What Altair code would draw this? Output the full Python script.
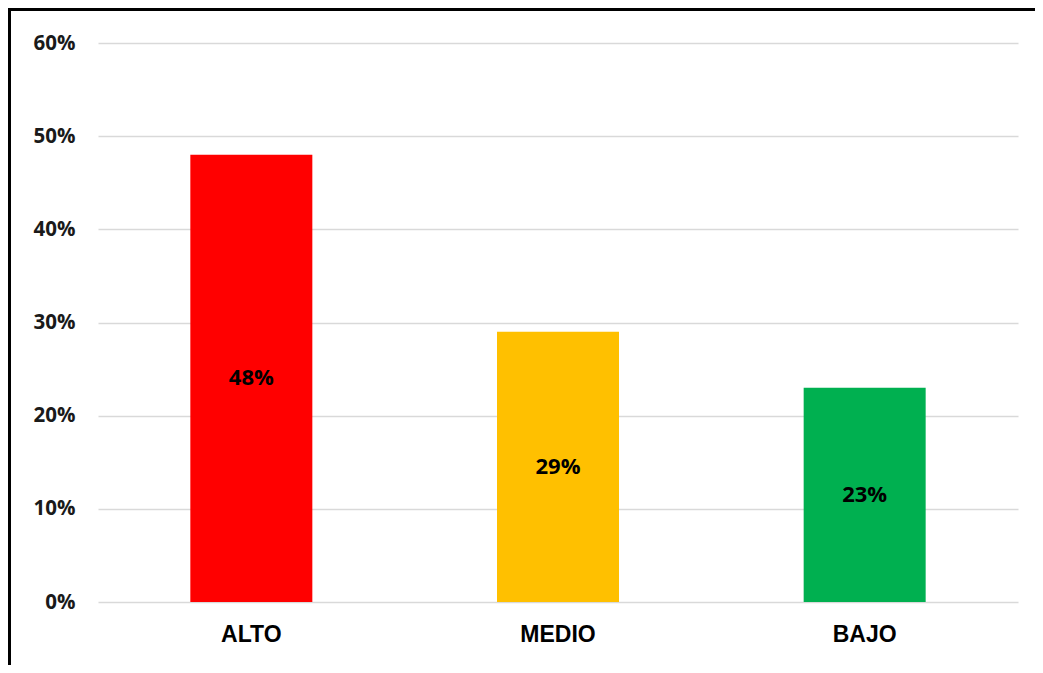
import altair as alt
import pandas as pd

categories = ["ALTO", "MEDIO", "BAJO"]
values = [0.48, 0.29, 0.23]
colors = ["#FF0000", "#FFC000", "#00B050"]
labels = ["48%", "29%", "23%"]

df = pd.DataFrame({"cat": categories, "val": values, "color": colors, "label": labels})

x = alt.X("cat:N", sort=categories, title=None,
          scale=alt.Scale(paddingInner=0.6, paddingOuter=0.3),
          axis=alt.Axis(labelAngle=0, labelFont="Liberation Sans", labelFontWeight="bold",
                        labelFontSize=23, labelColor="#000000", labelPadding=21,
                        ticks=False, domain=False))
y = alt.Y("val:Q", title=None,
          scale=alt.Scale(domain=[0, 0.6], nice=False),
          axis=alt.Axis(format=".0%", values=[0, 0.1, 0.2, 0.3, 0.4, 0.5, 0.6],
                        labelFont="Open Sans", labelFontWeight="bold", labelFontSize=20.5,
                        labelColor="#1a1a1a", labelPadding=23, ticks=False, domain=False,
                        grid=True, gridColor="#d9d9d9", gridWidth=1.5))

bars = alt.Chart(df).mark_bar(size=122).encode(
    x=x, y=y, color=alt.Color("color:N", scale=None))

text = alt.Chart(df).mark_text(font="Open Sans", fontWeight="bold", fontSize=22,
                               color="#000000").encode(
    x=alt.X("cat:N", sort=categories),
    y=alt.Y("mid:Q"),
    text="label:N").transform_calculate(mid="datum.val / 2")

frame_top = alt.Chart(df).mark_rule(color="#000000", strokeWidth=3, clip=False).encode(
    x=alt.value(-90), x2=alt.value(937), y=alt.value(-33.5))
frame_left = alt.Chart(df).mark_rule(color="#000000", strokeWidth=3, clip=False).encode(
    x=alt.value(-88.5), y=alt.value(-35), y2=alt.value(700))

chart = alt.layer(bars, text, frame_top, frame_left).properties(
    width=920, height=559,
    padding={"left": 90, "top": 35, "right": 17, "bottom": 63},
    autosize=alt.AutoSizeParams(type="none"),
    background="#ffffff",
).configure_view(stroke=None)

chart.save("out.html", embed_options={"renderer": "svg", "actions": False})
